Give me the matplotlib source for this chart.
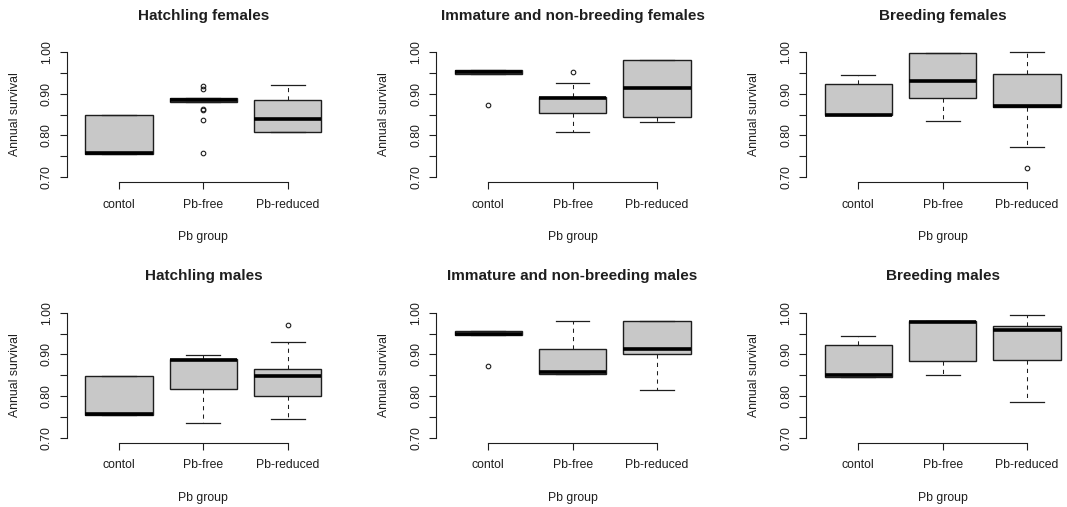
import numpy as np
import matplotlib.pyplot as plt

plt.rcParams['font.family'] = ['Liberation Sans', 'DejaVu Sans']

groups = ["contol", "Pb-free", "Pb-reduced"]
titles = ["Hatchling females", "Immature and non-breeding females", "Breeding females",
          "Hatchling males", "Immature and non-breeding males", "Breeding males"]

# box statistics, one row per panel, one value per group
medians = [[0.757, 0.886, 0.840],
           [0.952, 0.889, 0.913],
           [0.850, 0.931, 0.870],
           [0.758, 0.887, 0.849],
           [0.950, 0.857, 0.912],
           [0.850, 0.978, 0.959]]
q1s = [[0.756, 0.880, 0.809],
       [0.948, 0.854, 0.843],
       [0.848, 0.890, 0.867],
       [0.755, 0.818, 0.799],
       [0.946, 0.854, 0.902],
       [0.846, 0.884, 0.887]]
q3s = [[0.850, 0.890, 0.886],
       [0.957, 0.891, 0.981],
       [0.923, 0.998, 0.948],
       [0.849, 0.890, 0.866],
       [0.955, 0.914, 0.980],
       [0.922, 0.981, 0.967]]
whis_lo = [[0.756, 0.879, 0.809],
           [0.948, 0.807, 0.833],
           [0.848, 0.834, 0.772],
           [0.755, 0.735, 0.745],
           [0.946, 0.854, 0.814],
           [0.846, 0.850, 0.785]]
whis_hi = [[0.850, 0.890, 0.920],
           [0.957, 0.926, 0.981],
           [0.944, 0.998, 1.000],
           [0.849, 0.898, 0.929],
           [0.955, 0.979, 0.980],
           [0.944, 0.981, 0.995]]
outliers = [[[], [0.919, 0.911, 0.863, 0.862, 0.836, 0.758], []],
            [[0.874], [0.953], []],
            [[], [], [0.722]],
            [[], [], [0.970]],
            [[0.873], [], []],
            [[], [], []]]

fig = plt.figure(figsize=(10.67, 5.07), dpi=100)
lefts = [0.0625, 0.4086, 0.7554]
bottoms = [0.641, 0.1268]
w, h = 0.2561, 0.2663
ink = '#1e1e1e'

for i in range(6):
    ax = fig.add_axes([lefts[i % 3], bottoms[i // 3], w, h])
    stats = []
    for j in range(3):
        stats.append(dict(med=medians[i][j], q1=q1s[i][j], q3=q3s[i][j],
                          whislo=whis_lo[i][j], whishi=whis_hi[i][j],
                          fliers=outliers[i][j]))
    ax.bxp(stats, positions=[1, 2, 3], widths=0.8, capwidths=0.4, patch_artist=True,
           boxprops=dict(facecolor='#c8c8c8', edgecolor=ink, linewidth=1.0),
           medianprops=dict(color='black', linewidth=2.6, solid_capstyle='butt'),
           whiskerprops=dict(color=ink, linewidth=0.75, linestyle=(0, (4, 4))),
           capprops=dict(color=ink, linewidth=0.9),
           flierprops=dict(marker='o', markerfacecolor='none', markeredgecolor=ink,
                           markersize=3.3, markeredgewidth=0.8))

    ax.set_xlim(0.38, 3.62)
    ax.set_ylim(0.688, 1.012)
    for s in ['top', 'right']:
        ax.spines[s].set_visible(False)
    ax.spines['left'].set_bounds(0.70, 1.00)
    ax.spines['bottom'].set_bounds(1, 3)
    for s in ['left', 'bottom']:
        ax.spines[s].set_linewidth(0.8)
        ax.spines[s].set_color(ink)

    ax.set_xticks([1, 2, 3], groups)
    yt = np.arange(0.70, 1.001, 0.05)
    ax.set_yticks(yt, ['0.70', '', '0.80', '', '0.90', '', '1.00'])
    ax.tick_params(axis='both', direction='out', length=5, width=0.8, color=ink,
                   labelsize=8.8, labelcolor=ink)
    ax.tick_params(axis='x', pad=7)
    ax.tick_params(axis='y', pad=5, labelrotation=90)
    for lbl in ax.get_yticklabels():
        lbl.set_va('center')

    ax.set_xlabel("Pb group", fontsize=8.8, color=ink, va='center')
    ax.xaxis.set_label_coords(0.5, -0.407)
    ax.set_ylabel("Annual survival", fontsize=8.8, color=ink, va='center')
    ax.yaxis.set_label_coords(-0.19, 0.5)
    ax.set_title(titles[i], fontsize=11, fontweight='bold', color=ink, y=1.232,
                 va='center', pad=0)

fig.savefig("out.png", dpi=100)
